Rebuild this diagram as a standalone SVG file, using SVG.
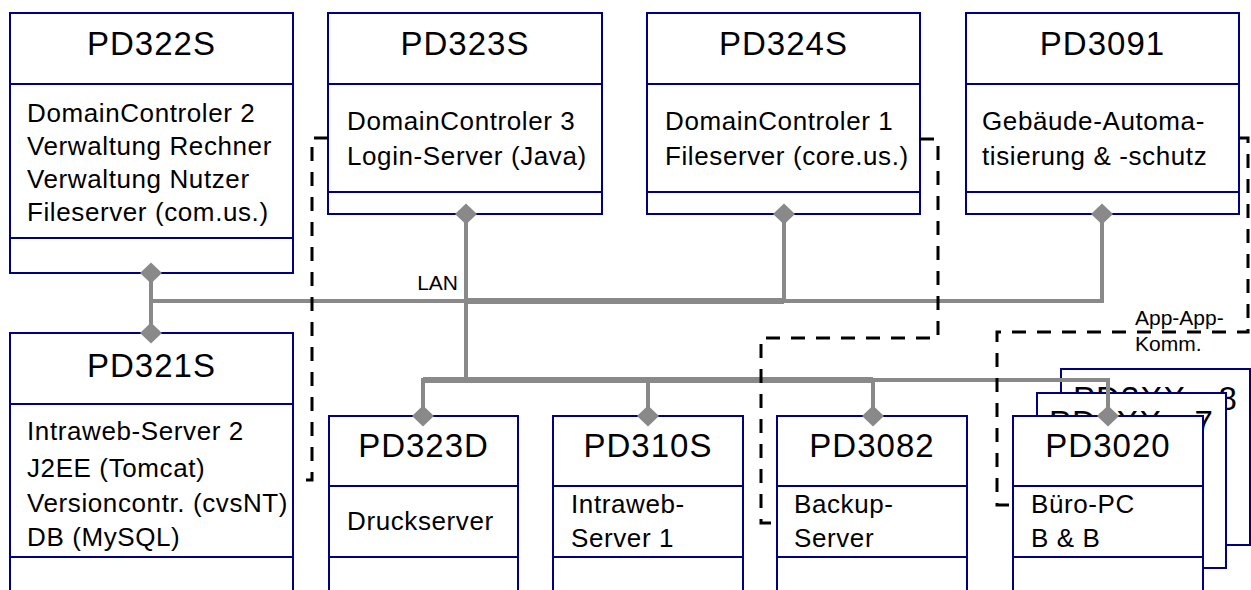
<svg xmlns="http://www.w3.org/2000/svg" xmlns:xlink="http://www.w3.org/1999/xlink" width="1251" height="590" viewBox="0 0 1251 590">
  <style>
    .box { fill: #ffffff; stroke: #000080; stroke-width: 2; }
    .div { stroke: #000080; stroke-width: 2; fill: none; }
    .title { font-family: "Liberation Sans", Arial, sans-serif; font-size: 33px; letter-spacing: 1px; text-anchor: middle; fill: #000; }
    .body { font-family: "Liberation Sans", Arial, sans-serif; font-size: 26px; letter-spacing: 0.6px; fill: #000; }
    .lbl { font-family: "Liberation Sans", Arial, sans-serif; font-size: 21px; fill: #000; }
    .lan { stroke: #898989; stroke-width: 4; fill: none; }
    .lanw { stroke: #898989; stroke-width: 6; fill: none; }
    .dash { stroke: #000; stroke-width: 3; fill: none; stroke-dasharray: 14 11; }
    .dia { fill: #898989; }
  </style>
  <defs>
    <path id="diamond" class="dia" d="M0,-10.5 L11,0 L0,10.5 L-11,0 Z"/>
  </defs>

  <rect width="1251" height="590" fill="#ffffff"/>

  <!-- top row -->
  <g id="PD322S">
    <rect class="box" x="10" y="13" width="283" height="260"/>
    <line class="div" x1="10" y1="84" x2="293" y2="84"/>
    <line class="div" x1="10" y1="238" x2="293" y2="238"/>
    <text class="title" x="151.5" y="55">PD322S</text>
    <text class="body" x="27" y="122">DomainControler 2</text>
    <text class="body" x="27" y="155">Verwaltung Rechner</text>
    <text class="body" x="27" y="188">Verwaltung Nutzer</text>
    <text class="body" x="27" y="221">Fileserver (com.us.)</text>
  </g>

  <g id="PD323S">
    <rect class="box" x="328" y="13" width="274" height="201"/>
    <line class="div" x1="328" y1="84" x2="602" y2="84"/>
    <line class="div" x1="328" y1="192" x2="602" y2="192"/>
    <text class="title" x="465" y="55">PD323S</text>
    <text class="body" x="347" y="130">DomainControler 3</text>
    <text class="body" x="347" y="165">Login-Server (Java)</text>
  </g>

  <g id="PD324S">
    <rect class="box" x="647" y="13" width="273" height="201"/>
    <line class="div" x1="647" y1="84" x2="920" y2="84"/>
    <line class="div" x1="647" y1="192" x2="920" y2="192"/>
    <text class="title" x="783.5" y="55">PD324S</text>
    <text class="body" x="665" y="130">DomainControler 1</text>
    <text class="body" x="665" y="165">Fileserver (core.us.)</text>
  </g>

  <g id="PD3091">
    <rect class="box" x="966" y="13" width="273" height="201"/>
    <line class="div" x1="966" y1="84" x2="1239" y2="84"/>
    <line class="div" x1="966" y1="192" x2="1239" y2="192"/>
    <text class="title" x="1102.5" y="55">PD3091</text>
    <text class="body" x="982" y="130">Gebäude-Automa-</text>
    <text class="body" x="982" y="165">tisierung &amp; -schutz</text>
  </g>

  <!-- left column -->
  <g id="PD321S">
    <rect class="box" x="10" y="333" width="283" height="280"/>
    <line class="div" x1="10" y1="404" x2="293" y2="404"/>
    <line class="div" x1="10" y1="557" x2="293" y2="557"/>
    <text class="title" x="151.5" y="377">PD321S</text>
    <text class="body" x="27" y="440">Intraweb-Server 2</text>
    <text class="body" x="27" y="477">J2EE (Tomcat)</text>
    <text class="body" x="27" y="512">Versioncontr. (cvsNT)</text>
    <text class="body" x="27" y="546">DB (MySQL)</text>
  </g>

  <!-- bottom row -->
  <g id="PD323D">
    <rect class="box" x="329" y="416" width="189" height="200"/>
    <line class="div" x1="329" y1="486" x2="518" y2="486"/>
    <line class="div" x1="329" y1="557" x2="518" y2="557"/>
    <text class="title" x="423.5" y="457">PD323D</text>
    <text class="body" x="347" y="530">Druckserver</text>
  </g>

  <g id="PD310S">
    <rect class="box" x="553" y="416" width="190" height="200"/>
    <line class="div" x1="553" y1="486" x2="743" y2="486"/>
    <line class="div" x1="553" y1="557" x2="743" y2="557"/>
    <text class="title" x="648" y="457">PD310S</text>
    <text class="body" x="571" y="513">Intraweb-</text>
    <text class="body" x="571" y="547">Server 1</text>
  </g>

  <g id="PD3082">
    <rect class="box" x="777" y="416" width="190" height="200"/>
    <line class="div" x1="777" y1="486" x2="967" y2="486"/>
    <line class="div" x1="777" y1="557" x2="967" y2="557"/>
    <text class="title" x="872" y="457">PD3082</text>
    <text class="body" x="794" y="513">Backup-</text>
    <text class="body" x="794" y="547">Server</text>
  </g>

  <!-- stacked office PCs -->
  <g id="PD3XX-8">
    <rect class="box" x="1061" y="369" width="189" height="176"/>
    <text class="title" x="1155.5" y="410">PD3XX - 8</text>
  </g>
  <g id="PD3XX-7">
    <rect class="box" x="1037" y="393" width="189" height="175"/>
    <text class="title" x="1131.5" y="434">PD3XX - 7</text>
  </g>
  <g id="PD3020">
    <rect class="box" x="1013" y="416" width="190" height="200"/>
    <line class="div" x1="1013" y1="486" x2="1203" y2="486"/>
    <line class="div" x1="1013" y1="557" x2="1203" y2="557"/>
    <text class="title" x="1108" y="457">PD3020</text>
    <text class="body" x="1031" y="513">Büro-PC</text>
    <text class="body" x="1031" y="547">B &amp; B</text>
  </g>

  <!-- connectors -->
  <g id="connectors">
    <!-- LAN backbone -->
    <path class="lan" d="M151,273 V333"/>
    <path class="lan" d="M151,301 H1102 V214"/>
    <path class="lanw" d="M465,301 H784"/>
    <path class="lan" d="M784,214 V301"/>
    <path class="lan" d="M466,214 V380"/>
    <path class="lan" d="M423,416 V380 H1108 V416"/>
    <path class="lanw" d="M423,380 H873"/>
    <path class="lan" d="M648,380 V416"/>
    <path class="lan" d="M873,380 V416"/>
    <use xlink:href="#diamond" x="151" y="273"/>
    <use xlink:href="#diamond" x="151" y="333"/>
    <use xlink:href="#diamond" x="466" y="214"/>
    <use xlink:href="#diamond" x="784" y="214"/>
    <use xlink:href="#diamond" x="1102" y="214"/>
    <use xlink:href="#diamond" x="423" y="416"/>
    <use xlink:href="#diamond" x="648" y="416"/>
    <use xlink:href="#diamond" x="873" y="416"/>
    <use xlink:href="#diamond" x="1108" y="416"/>
    <text class="lbl" x="458" y="290" text-anchor="end">LAN</text>

    <!-- application links -->
    <path class="dash" d="M328,138 H312 V480 H296"/>
    <path class="dash" d="M920,139 H938 V338 H761 V523 H777"/>
    <path class="dash" d="M1239,138 H1248 V332 H997 V505 H1013"/>
    <text class="lbl" x="1135" y="325">App-App-</text>
    <text class="lbl" x="1135" y="351">Komm.</text>
  </g>
</svg>
